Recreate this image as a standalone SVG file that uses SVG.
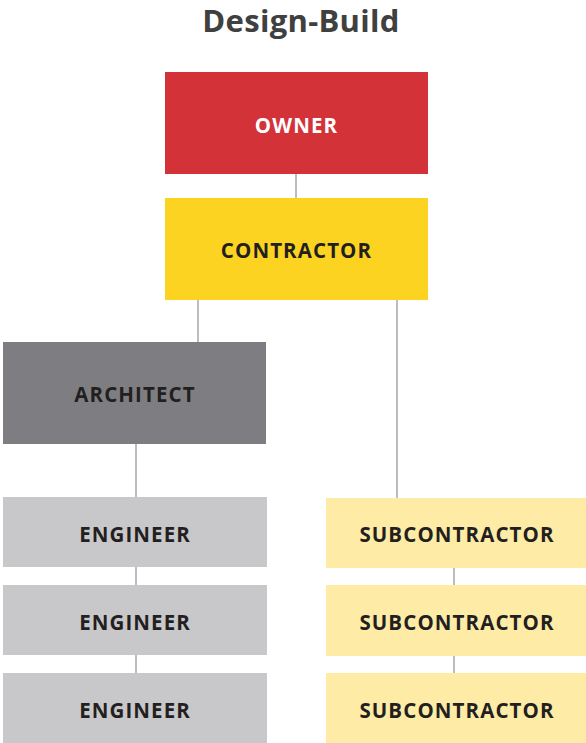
<svg xmlns="http://www.w3.org/2000/svg" width="586" height="743" viewBox="0 0 586 743">
<style>
.lbl{font-family:"Open Sans","Liberation Sans",sans-serif;font-weight:bold;font-size:20.5px;letter-spacing:1.1px;text-anchor:middle;fill:#231F20}
.title{font-family:"Open Sans","Liberation Sans",sans-serif;font-weight:bold;font-size:31px;letter-spacing:0.3px;text-anchor:middle;fill:#404040}
.conn line{stroke:#A7A7A9;stroke-width:1.5}
</style>
<rect width="586" height="743" fill="#FFFFFF"/>
<text class="title" x="301" y="32">Design-Build</text>
<g class="conn">
<line x1="296" y1="174" x2="296" y2="198"/>
<line x1="198" y1="300" x2="198" y2="342"/>
<line x1="397" y1="300" x2="397" y2="498"/>
<line x1="136" y1="444" x2="136" y2="497"/>
<line x1="136" y1="567" x2="136" y2="585"/>
<line x1="136" y1="655" x2="136" y2="673"/>
<line x1="454" y1="568" x2="454" y2="585"/>
<line x1="454" y1="656" x2="454" y2="673"/>
</g>
<g id="owner"><rect x="165" y="72" width="263" height="102" fill="#D43239"/><text class="lbl" x="296.5" y="133" style="fill:#FFFFFF">OWNER</text></g>
<g id="contractor"><rect x="165" y="198" width="263" height="102" fill="#FDD321"/><text class="lbl" x="296.5" y="258">CONTRACTOR</text></g>
<g id="architect"><rect x="3" y="342" width="263" height="102" fill="#7E7E82"/><text class="lbl" x="135" y="402">ARCHITECT</text></g>
<g id="engineer1"><rect x="3" y="497" width="264" height="70" fill="#C8C8CA"/><text class="lbl" x="135" y="542">ENGINEER</text></g>
<g id="engineer2"><rect x="3" y="585" width="264" height="70" fill="#C8C8CA"/><text class="lbl" x="135" y="630">ENGINEER</text></g>
<g id="engineer3"><rect x="3" y="673" width="264" height="70" fill="#C8C8CA"/><text class="lbl" x="135" y="718">ENGINEER</text></g>
<g id="sub1"><rect x="326" y="498" width="260" height="70" fill="#FDEBA6"/><text class="lbl" x="457" y="542">SUBCONTRACTOR</text></g>
<g id="sub2"><rect x="326" y="585" width="260" height="71" fill="#FDEBA6"/><text class="lbl" x="457" y="630">SUBCONTRACTOR</text></g>
<g id="sub3"><rect x="326" y="673" width="260" height="70" fill="#FDEBA6"/><text class="lbl" x="457" y="718">SUBCONTRACTOR</text></g>
</svg>
